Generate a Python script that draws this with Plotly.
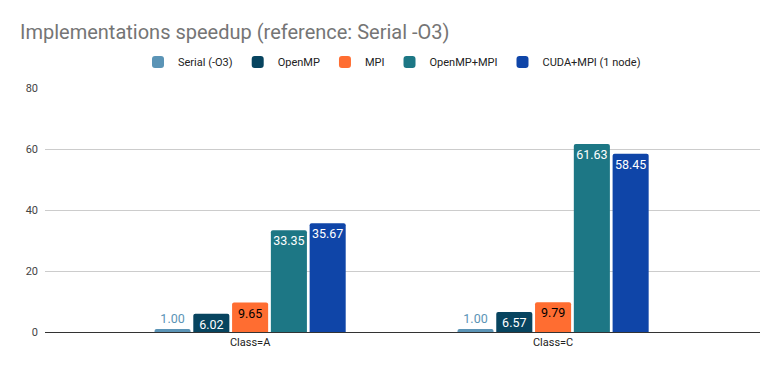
import plotly.graph_objects as go

categories = ["Class=A", "Class=C"]
series_names = ["Serial (-O3)", "OpenMP", "MPI", "OpenMP+MPI", "CUDA+MPI (1 node)"]
serial = [1.00, 1.00]
openmp = [6.02, 6.57]
mpi = [9.65, 9.79]
openmp_mpi = [33.35, 61.63]
cuda_mpi = [35.67, 58.45]
y_ticks = [0, 20, 40, 60, 80]

values = [serial, openmp, mpi, openmp_mpi, cuda_mpi]
colors = ["#5b94b6", "#07445f", "#ff6d31", "#1d7785", "#0f45a8"]
text_colors = ["#5b94b6", "#ffffff", "#000000", "#ffffff", "#ffffff"]
positions = ["outside", "inside", "inside", "inside", "inside"]

fig = go.Figure()
for name, vals, c, tc, pos in zip(series_names, values, colors, text_colors, positions):
    fig.add_trace(go.Bar(
        name=name, x=categories, y=vals,
        marker=dict(color=c, cornerradius=2, line=dict(width=0)),
        texttemplate="%{y:.2f}", textposition=pos, insidetextanchor="end",
        textangle=0,
        textfont=dict(color=tc, size=12.5, family="Roboto"),
        cliponaxis=False,
    ))

fig.update_layout(
    width=775, height=371,
    margin=dict(l=45, r=15, t=88, b=39),
    paper_bgcolor="white", plot_bgcolor="white",
    font=dict(family="Roboto", color="#444444"),
    title=dict(text="Implementations speedup (reference: Serial -O3)",
               x=20/775, xanchor="left", y=1-32/371, yanchor="middle",
               yref="container", font=dict(size=20, color="#757575")),
    legend=dict(orientation="h", x=(392-45)/715, xanchor="center", y=(332-62)/244, yanchor="middle",
                font=dict(size=11, color="#222222"), traceorder="normal", itemwidth=30),
    barmode="group", bargap=0.36, bargroupgap=0.07,
    uniformtext=dict(minsize=12, mode="show"),
    showlegend=True,
)
fig.update_xaxes(range=[-0.677, 1.683], showline=True, linecolor="#333333", linewidth=1,
                 showgrid=False, tickfont=dict(size=11, color="#222222"), ticks="")
fig.update_yaxes(range=[0, 80], tickvals=y_ticks, showgrid=True, gridcolor="#cccccc",
                 zeroline=False, tickfont=dict(size=11, color="#444444"), ticks="",
                 ticklabelstandoff=6)

fig.write_html("out.html", config={"displayModeBar": False},
               post_script="document.body.style.margin='0';")
